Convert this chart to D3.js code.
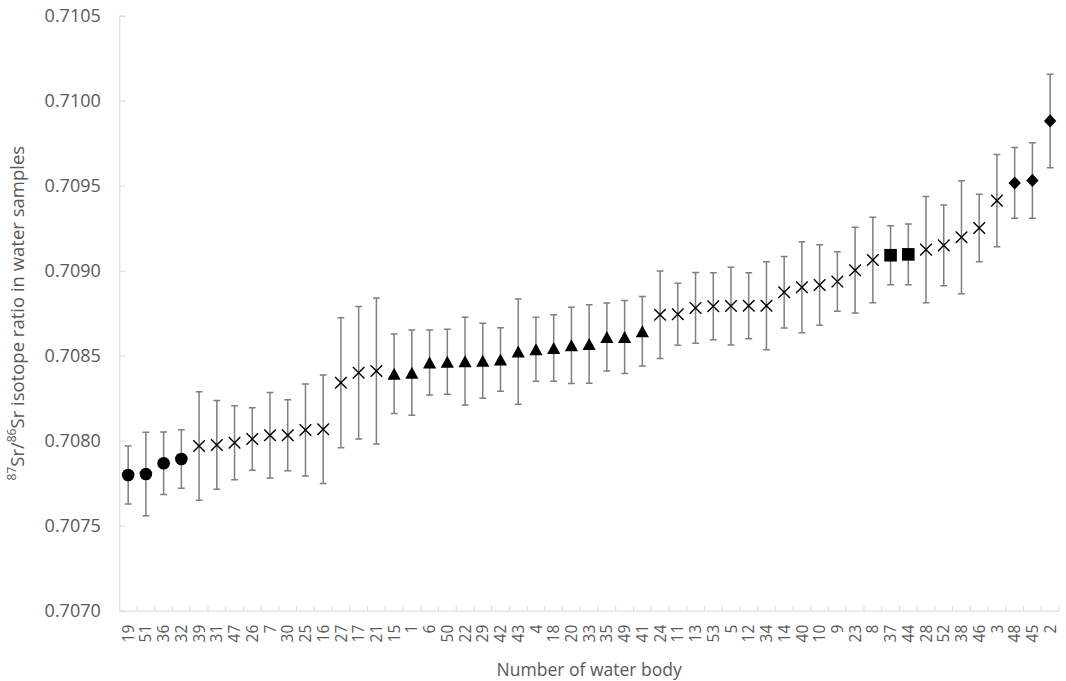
<!DOCTYPE html>
<html>
<head>
<meta charset="utf-8">
<script src="https://cdn.jsdelivr.net/npm/d3@7"></script>
<style>
  html, body { margin: 0; padding: 0; background: #ffffff; }
  svg { display: block; }
  text { font-family: "Open Sans", "Noto Sans", sans-serif; fill: #595959; }
</style>
</head>
<body>
<svg id="chart" width="1066" height="681"></svg>
<script>
// ---- data ----
const categories = ["19","51","36","32","39","31","47","26","7","30","25","16","27","17","21",
  "15","1","6","50","22","29","42","43","4","18","20","33","35","49","41",
  "24","11","13","53","5","12","34","14","40","10","9","23","8",
  "37","44","28","52","38","46","3","48","45","2"];

const values = [0.707798,0.707804,0.707867,0.707892,0.707969,0.707975,0.707988,0.708010,0.708032,0.708032,0.708063,0.708067,0.708341,0.708400,0.708410,
  0.708394,0.708400,0.708460,0.708464,0.708468,0.708470,0.708478,0.708524,0.708538,0.708545,0.708561,0.708569,0.708610,0.708610,0.708644,
  0.708741,0.708744,0.708781,0.708791,0.708792,0.708794,0.708794,0.708873,0.708903,0.708916,0.708936,0.709003,0.709063,
  0.709091,0.709096,0.709124,0.709149,0.709197,0.709251,0.709412,0.709516,0.709531,0.709881];

const errors = [0.000171,0.000246,0.000184,0.000172,0.000319,0.000261,0.000218,0.000184,0.000251,0.000209,0.000271,0.000319,0.000382,0.000390,0.000429,
  0.000234,0.000251,0.000191,0.000191,0.000258,0.000221,0.000187,0.000309,0.000188,0.000196,0.000224,0.000231,0.000200,0.000214,0.000204,
  0.000257,0.000182,0.000208,0.000197,0.000229,0.000194,0.000259,0.000210,0.000268,0.000237,0.000175,0.000252,0.000251,
  0.000174,0.000178,0.000312,0.000237,0.000332,0.000198,0.000271,0.000208,0.000222,0.000275];

const markers = ["circle","circle","circle","circle",
  "cross","cross","cross","cross","cross","cross","cross","cross","cross","cross","cross",
  "triangle","triangle","triangle","triangle","triangle","triangle","triangle","triangle","triangle","triangle","triangle","triangle","triangle","triangle","triangle",
  "cross","cross","cross","cross","cross","cross","cross","cross","cross","cross","cross","cross","cross",
  "square","square",
  "cross","cross","cross","cross","cross",
  "diamond","diamond","diamond"];

const yTicks = [0.7070,0.7075,0.7080,0.7085,0.7090,0.7095,0.7100,0.7105];
const xTitle = "Number of water body";

// ---- layout ----
const svg = d3.select("#chart");
const pLeft = 119.3, pRight = 1059, pTop = 15.7, pBottom = 610.7;

const x = d3.scaleBand().domain(categories).range([pLeft, pRight]).padding(0);
const y = d3.scaleLinear().domain([0.7070, 0.7105]).range([pBottom, pTop]);

const data = categories.map((c, i) => ({ c, v: values[i], e: errors[i], m: markers[i] }));

// Y axis
const yAxis = svg.append("g")
  .attr("transform", `translate(${pLeft},0)`)
  .call(d3.axisLeft(y).tickValues(yTicks).tickFormat(d3.format(".4f")).tickSize(-6).tickPadding(18.5));
yAxis.select(".domain").attr("stroke", "#d9d9d9").attr("stroke-width", 1);
yAxis.selectAll(".tick line").attr("stroke", "#d9d9d9");
yAxis.selectAll(".tick text").style("font-size", "18px").attr("fill", "#595959");

// X axis
const xAxis = svg.append("g")
  .attr("transform", `translate(0,${pBottom})`)
  .call(d3.axisBottom(x).tickSize(0).tickSizeOuter(0));
xAxis.select(".domain").attr("stroke", "#d9d9d9").attr("stroke-width", 1);
xAxis.selectAll(".tick text")
  .attr("transform", "rotate(-90)")
  .attr("x", -14).attr("y", 0).attr("dy", "0.36em")
  .style("text-anchor", "end")
  .style("font-size", "15.5px")
  .attr("fill", "#595959");

// boundary tick marks (inside)
const bounds = categories.map(c => x(c) + x.bandwidth());
svg.append("g").selectAll("line").data(bounds).join("line")
  .attr("x1", d => d).attr("x2", d => d)
  .attr("y1", pBottom).attr("y2", pBottom - 5)
  .attr("stroke", "#d9d9d9").attr("stroke-width", 1);

// axis titles
svg.append("text")
  .attr("x", (pLeft + pRight) / 2).attr("y", 676)
  .attr("text-anchor", "middle")
  .style("font-size", "17.5px")
  .text(xTitle);

const yt = svg.append("text")
  .attr("transform", `translate(24,${(pTop + pBottom) / 2}) rotate(-90)`)
  .attr("text-anchor", "middle")
  .style("font-size", "18.5px");
yt.append("tspan").text("87").style("font-size", "12px").attr("baseline-shift", "super");
yt.append("tspan").text("Sr/");
yt.append("tspan").text("86").style("font-size", "12px").attr("baseline-shift", "super");
yt.append("tspan").text("Sr isotope ratio in water samples");

// error bars
const cx = d => x(d.c) + x.bandwidth() / 2;
const eb = svg.append("g").attr("stroke", "#7f7f7f").attr("stroke-width", 1.5).attr("fill", "none");
eb.selectAll("path").data(data).join("path")
  .attr("d", d => {
    const X = cx(d), t = y(d.v + d.e), b = y(d.v - d.e), w = 3.4;
    return `M${X},${t}V${b}M${X - w},${t}H${X + w}M${X - w},${b}H${X + w}`;
  });

// markers
const shapes = {
  circle: "M6.3,0A6.3,6.3 0 1,1 -6.3,0A6.3,6.3 0 1,1 6.3,0Z",
  square: "M-6.3,-6.3H6.3V6.3H-6.3Z",
  triangle: "M0,-6L6.6,6H-6.6Z",
  diamond: "M0,-6.6L6.2,0L0,6.6L-6.2,0Z",
  cross: "M-5.8,-5.8L5.8,5.8M-5.8,5.8L5.8,-5.8"
};
svg.append("g").selectAll("path").data(data).join("path")
  .attr("transform", d => `translate(${cx(d)},${y(d.v)})`)
  .attr("d", d => shapes[d.m])
  .attr("fill", d => d.m === "cross" ? "none" : "#000")
  .attr("stroke", d => d.m === "cross" ? "#000" : "none")
  .attr("stroke-width", 1.4);
</script>
</body>
</html>
